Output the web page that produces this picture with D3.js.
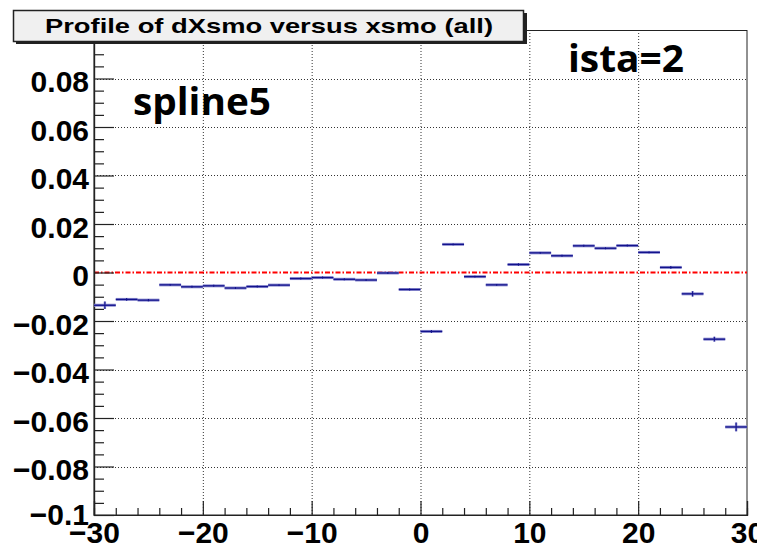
<!DOCTYPE html>
<html>
<head>
<meta charset="utf-8">
<script src="https://cdn.jsdelivr.net/npm/d3@7/dist/d3.min.js"></script>
<style>
  html, body { margin: 0; padding: 0; background: #fff; }
  svg { display: block; }
</style>
</head>
<body>
<svg id="chart" width="757" height="549"></svg>
<script>
// ---- Data ----
const binCenters = [-29, -27, -25, -23, -21, -19, -17, -15, -13, -11, -9, -7, -5, -3, -1,
                    1, 3, 5, 7, 9, 11, 13, 15, 17, 19, 21, 23, 25, 27, 29];
const binHalfWidth = 1;
const profileValues = [-0.0135, -0.0111, -0.0114, -0.0051, -0.0059, -0.0055, -0.0064, -0.0058, -0.0052, -0.0025,
                       -0.0021, -0.0028, -0.0031, -0.0002, -0.0070, -0.0243, 0.0116, -0.0017, -0.0051, 0.0033,
                       0.0081, 0.0069, 0.0110, 0.0100, 0.0111, 0.0083, 0.0021, -0.0088, -0.0275, -0.0637];
const profileErrors = [0.0015, 0.0006, 0.0005, 0.0004, 0.0004, 0.0004, 0.0004, 0.0004, 0.0004, 0.0004,
                       0.0004, 0.0004, 0.0004, 0.0004, 0.0004, 0.0006, 0.0004, 0.0004, 0.0004, 0.0005,
                       0.0004, 0.0004, 0.0004, 0.0004, 0.0004, 0.0004, 0.0006, 0.0011, 0.0010, 0.0018];
const xMajorTicks = [-30, -20, -10, 0, 10, 20, 30];
const xMinorTicks = [-28, -26, -24, -22, -18, -16, -14, -12, -8, -6, -4, -2, 2, 4, 6, 8, 12, 14, 16, 18, 22, 24, 26, 28];
const yMajorTicks = [-0.1, -0.08, -0.06, -0.04, -0.02, 0, 0.02, 0.04, 0.06, 0.08];
const yMinorTicks = [-0.095, -0.09, -0.085, -0.075, -0.07, -0.065, -0.055, -0.05, -0.045, -0.035, -0.03, -0.025,
                     -0.015, -0.01, -0.005, 0.005, 0.01, 0.015, 0.025, 0.03, 0.035, 0.045, 0.05, 0.055,
                     0.065, 0.07, 0.075, 0.085, 0.09, 0.095];
const xGridValues = [-20, -10, 0, 10, 20];
const yGridValues = [-0.08, -0.06, -0.04, -0.02, 0.02, 0.04, 0.06, 0.08];
const titleText = "Profile of dXsmo versus xsmo (all)";
const label1 = "spline5";
const label2 = "ista=2";

// ---- Layout ----
const L = 94, R = 747, T = 30, B = 515;
const svg = d3.select("#chart");
const x = d3.scaleLinear().domain([-30, 30]).range([L, R]);
const y = d3.scaleLinear().domain([-0.1, 0.1]).range([B, T]);
const tickFont = "'Liberation Sans', Arial, Helvetica, sans-serif";

// grid
const grid = svg.append("g");
grid.selectAll("line.gx").data(xGridValues).enter().append("line")
  .attr("x1", d => x(d) + 0.5).attr("x2", d => x(d) + 0.5)
  .attr("y1", T).attr("y2", B)
  .attr("stroke", "#333").attr("stroke-width", 1).attr("stroke-dasharray", "1,2");
grid.selectAll("line.gy").data(yGridValues).enter().append("line")
  .attr("x1", L).attr("x2", R)
  .attr("y1", d => Math.round(y(d)) + 0.5).attr("y2", d => Math.round(y(d)) + 0.5)
  .attr("stroke", "#333").attr("stroke-width", 1).attr("stroke-dasharray", "1,2");

// frame
svg.append("rect").attr("x", L).attr("y", T + 0.5).attr("width", R - L).attr("height", B - T - 0.5)
  .attr("fill", "none").attr("stroke", "#222").attr("stroke-width", 1);

// red zero line
svg.append("line")
  .attr("x1", L).attr("x2", R).attr("y1", y(0)).attr("y2", y(0))
  .attr("stroke", "#ff0000").attr("stroke-width", 2).attr("stroke-dasharray", "5,2,1.5,2");

// axes
function styleAxis(g) {
  g.select(".domain").attr("stroke", "#222").attr("stroke-width", 1.2);
  g.selectAll(".tick line").attr("stroke", "#222").attr("stroke-width", 1.2);
}
const yMinor = d3.axisLeft(y).tickValues(yMinorTicks).tickSize(-10).tickFormat("");
const yMajor = d3.axisLeft(y).tickValues(yMajorTicks).tickSize(-20).tickPadding(5)
  .tickFormat(d => Math.abs(d) < 1e-9 ? "0" : d3.format(".2~f")(d));
const gy1 = svg.append("g").attr("transform", `translate(${L},0)`).call(yMinor); styleAxis(gy1);
const gy2 = svg.append("g").attr("transform", `translate(${L},0)`).call(yMajor); styleAxis(gy2);
gy2.selectAll("text").attr("font-family", tickFont).attr("font-weight", "bold")
  .attr("font-size", 30).attr("fill", "#000")
  .attr("dy", d => d <= -0.099 ? "0.33em" : "0.44em");
// top major tick (label hidden behind the title box in the reference)
svg.append("line").attr("x1", L).attr("x2", L + 20).attr("y1", y(0.1)).attr("y2", y(0.1))
  .attr("stroke", "#222").attr("stroke-width", 1.2);

const xMinor = d3.axisBottom(x).tickValues(xMinorTicks).tickSize(-7).tickFormat("");
const xMajor = d3.axisBottom(x).tickValues(xMajorTicks).tickSize(-14).tickPadding(7)
  .tickFormat(d => d3.format("d")(d));
const gx1 = svg.append("g").attr("transform", `translate(0,${B})`).call(xMinor); styleAxis(gx1);
const gx2 = svg.append("g").attr("transform", `translate(0,${B})`).call(xMajor); styleAxis(gx2);
gx2.selectAll("text").attr("font-family", tickFont).attr("font-weight", "bold")
  .attr("font-size", 30).attr("fill", "#000");

// profile markers (error bars)
const pts = binCenters.map((c, i) => ({c, v: profileValues[i], e: profileErrors[i]}));
const marks = svg.append("g");
[["#8c8cd0", 3], ["#12128c", 1.3]].forEach(([col, w]) => {
  marks.selectAll(null).data(pts).enter().append("line")
    .attr("x1", d => x(d.c - binHalfWidth)).attr("x2", d => x(d.c + binHalfWidth))
    .attr("y1", d => y(d.v)).attr("y2", d => y(d.v))
    .attr("stroke", col).attr("stroke-width", w);
  marks.selectAll(null).data(pts).enter().append("line")
    .attr("x1", d => x(d.c)).attr("x2", d => x(d.c))
    .attr("y1", d => y(d.v - d.e)).attr("y2", d => y(d.v + d.e))
    .attr("stroke", col).attr("stroke-width", w * 0.8);
});

// text labels
svg.append("text").attr("x", 133).attr("y", 115)
  .attr("font-family", "'Open Sans', 'Noto Sans', sans-serif").attr("font-weight", "bold")
  .attr("font-size", 38).attr("fill", "#000")
  .attr("textLength", 138).attr("lengthAdjust", "spacingAndGlyphs").text(label1);
svg.append("text").attr("x", 568).attr("y", 72)
  .attr("font-family", "'Open Sans', 'Noto Sans', sans-serif").attr("font-weight", "bold")
  .attr("font-size", 38).attr("fill", "#000")
  .attr("textLength", 116).attr("lengthAdjust", "spacingAndGlyphs").text(label2);

// title box with shadow
svg.append("rect").attr("x", 16).attr("y", 13).attr("width", 511).attr("height", 31).attr("fill", "#222");
svg.append("rect").attr("x", 13.5).attr("y", 10.5).attr("width", 510).attr("height", 31)
  .attr("fill", "#f0f0f0").attr("stroke", "#222").attr("stroke-width", 1.5);
svg.append("text").attr("x", 45).attr("y", 33)
  .attr("font-family", tickFont).attr("font-weight", "bold")
  .attr("font-size", 20.5).attr("fill", "#000")
  .attr("textLength", 448).attr("lengthAdjust", "spacingAndGlyphs").text(titleText);
</script>
</body>
</html>
